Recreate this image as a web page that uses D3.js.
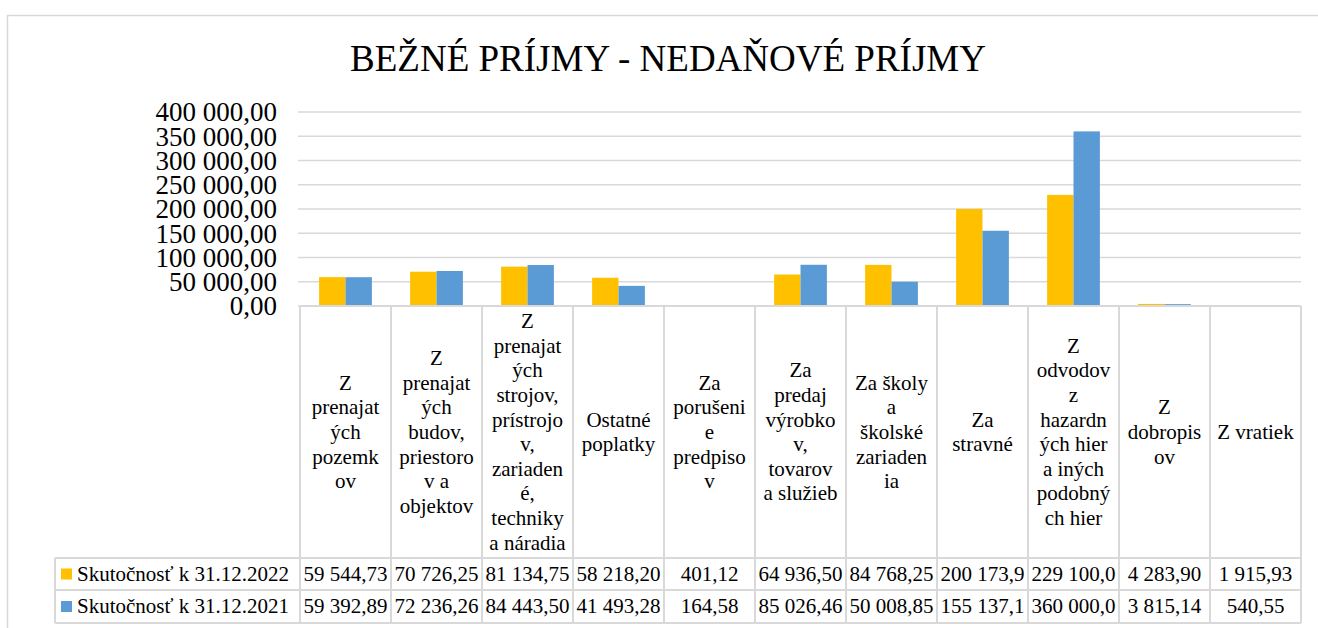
<!DOCTYPE html>
<html><head><meta charset="utf-8">
<script src="https://cdn.jsdelivr.net/npm/d3@7"></script>
<style>
body{margin:0;background:#fff;}
svg{display:block;font-family:"Liberation Serif","Times New Roman",serif;}
</style>
</head><body>
<svg id="c" width="1318" height="628"></svg>
<script>
const title = "BEŽNÉ PRÍJMY - NEDAŇOVÉ PRÍJMY";
const categories = [
  "Z prenajatých pozemkov",
  "Z prenajatých budov, priestorov a objektov",
  "Z prenajatých strojov, prístrojov, zariadené, techniky a náradia",
  "Ostatné poplatky",
  "Za porušenie predpisov",
  "Za predaj výrobkov, tovarov a služieb",
  "Za školy a školské zariadenia",
  "Za stravné",
  "Z odvodov z hazardných hier a iných podobných hier",
  "Z dobropisov",
  "Z vratiek"
];
const seriesNames = ["Skutočnosť k 31.12.2022", "Skutočnosť k 31.12.2021"];
const values2022 = [59544.73, 70726.25, 81134.75, 58218.20, 401.12, 64936.50, 84768.25, 200173.90, 229100.00, 4283.90, 1915.93];
const values2021 = [59392.89, 72236.26, 84443.50, 41493.28, 164.58, 85026.46, 50008.85, 155137.10, 360000.00, 3815.14, 540.55];
const yTicks = [0, 50000, 100000, 150000, 200000, 250000, 300000, 350000, 400000];
const colors = ["#FFC000", "#5B9BD5"];

const series = [values2022, values2021];
const svg = d3.select("#c");
const grid = "#d9d9d9";

const loc = d3.formatLocale({decimal: ",", thousands: "\u00a0", grouping: [3], currency: ["", ""]});
const fmt = loc.format(",.2f");

// outer border
svg.append("rect").attr("x", 7.5).attr("y", 15.5).attr("width", 1330).attr("height", 640)
  .attr("fill", "#fff").attr("stroke", grid).attr("stroke-width", 1.5);

// title
svg.append("text").attr("x", 668).attr("y", 71).attr("text-anchor", "middle")
  .attr("font-size", 37).attr("fill", "#000").text(title);

const plotL = 300, plotR = 1301, plotT = 112, plotB = 306;
const x = d3.scaleBand().domain(categories).range([plotL, plotR]).padding(0);
const y = d3.scaleLinear().domain([0, 400000]).range([plotB, plotT]);
const bw = x.bandwidth();
const groupW = bw * 0.58;
const xs = d3.scaleBand().domain([0, 1]).range([(bw - groupW) / 2, (bw + groupW) / 2]);

// gridlines
svg.append("g").selectAll("line").data(yTicks).join("line")
  .attr("x1", plotL - 2).attr("x2", plotR).attr("y1", d => y(d)).attr("y2", d => y(d))
  .attr("stroke", grid).attr("stroke-width", 1.5);

// y axis labels
const yAxis = d3.axisLeft(y).tickValues(yTicks).tickFormat(d => fmt(d)).tickSize(0).tickPadding(0);
const yg = svg.append("g").attr("transform", `translate(277,0)`).call(yAxis);
yg.select(".domain").remove();
yg.selectAll("text").attr("font-size", 27).attr("fill", "#000")
  .attr("font-family", "'Liberation Serif','Times New Roman',serif").attr("dy", "0.33em");

// bars
const bars = svg.append("g");
series.forEach((vals, si) => {
  bars.selectAll(".s" + si).data(vals).join("rect")
    .attr("x", (d, i) => x(categories[i]) + xs(si))
    .attr("width", xs.bandwidth())
    .attr("y", d => y(d))
    .attr("height", d => plotB - y(d))
    .attr("fill", colors[si]);
});

// data table
const hdrTop = plotB, hdrBot = 558, row1 = 590, row2 = 623, legL = 55;
const fs = 21, lh = 24.6;
const tbl = svg.append("g").attr("stroke", grid).attr("stroke-width", 2);
tbl.append("line").attr("x1", plotL).attr("x2", plotR).attr("y1", hdrTop).attr("y2", hdrTop);
[hdrBot, row1, row2].forEach(yy => tbl.append("line").attr("x1", legL).attr("x2", plotR).attr("y1", yy).attr("y2", yy));
tbl.append("line").attr("x1", legL).attr("x2", legL).attr("y1", hdrBot).attr("y2", row2);
const bounds = categories.map(c => x(c)).concat([plotR]);
tbl.selectAll(".v").data(bounds).join("line")
  .attr("x1", d => d).attr("x2", d => d).attr("y1", hdrTop).attr("y2", row2);

// measuring helper
const meas = svg.append("text").attr("font-size", fs).attr("x", -1000).attr("y", -1000);
const measure = s => { meas.text(s); return meas.node().getComputedTextLength(); };
const maxW = fs * 3.65;
function wrap(text) {
  const words = text.split(" ");
  const lines = [];
  let cur = "";
  for (let w of words) {
    const cand = cur ? cur + " " + w : w;
    if (measure(cand) <= maxW) { cur = cand; continue; }
    if (cur) { lines.push(cur); cur = ""; }
    while (measure(w) > maxW) {
      let i = w.length - 1;
      while (i > 1 && measure(w.slice(0, i)) > maxW) i--;
      lines.push(w.slice(0, i));
      w = w.slice(i);
    }
    cur = w;
  }
  if (cur) lines.push(cur);
  return lines;
}

const hdrMid = (hdrTop + hdrBot) / 2;
const hg = svg.append("g").attr("font-size", fs).attr("fill", "#000").attr("text-anchor", "middle");
categories.forEach(c => {
  const lines = wrap(c);
  const t = hg.append("text");
  const start = hdrMid - (lines.length - 1) * lh / 2;
  lines.forEach((ln, k) => {
    t.append("tspan").attr("x", x(c) + bw / 2).attr("y", start + k * lh).attr("dy", "0.33em").text(ln);
  });
});

// value rows
const rowMids = [(hdrBot + row1) / 2, (row1 + row2) / 2];
function fit(s) {
  while (measure(s) > bw - 2) s = s.slice(0, -1);
  return s;
}
series.forEach((vals, si) => {
  const g = svg.append("g").attr("font-size", fs).attr("fill", "#000");
  g.selectAll("text").data(vals).join("text")
    .attr("x", (d, i) => x(categories[i]) + bw / 2)
    .attr("y", rowMids[si]).attr("dy", "0.33em").attr("text-anchor", "middle")
    .text(d => fit(fmt(d)));
  g.append("rect").attr("x", 61).attr("y", rowMids[si] - 5.5).attr("width", 11).attr("height", 11).attr("fill", colors[si]);
  g.append("text").attr("x", 77).attr("y", rowMids[si]).attr("dy", "0.33em").text(seriesNames[si]);
});
meas.remove();
</script>
</body></html>
